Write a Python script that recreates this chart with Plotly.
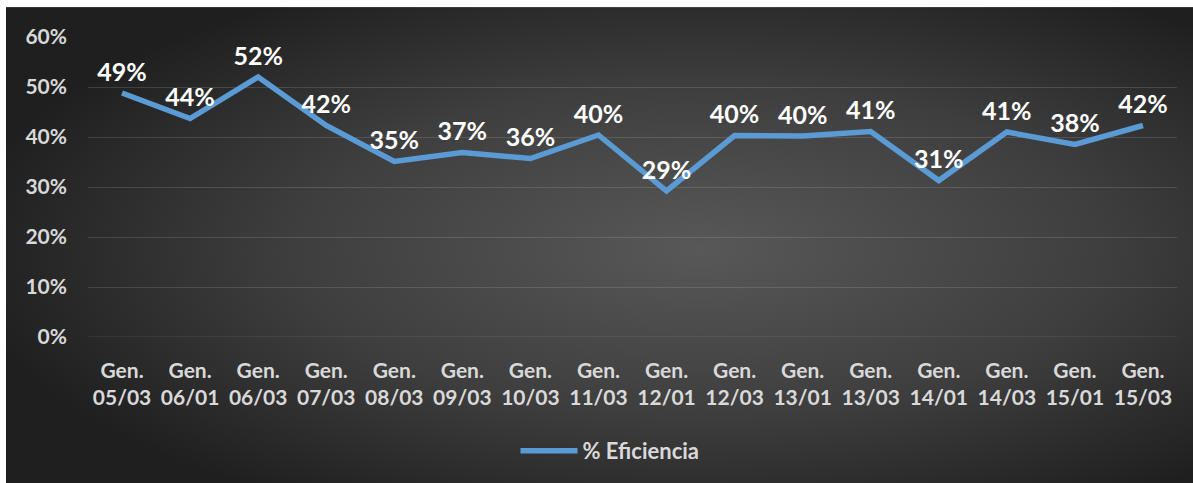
import base64
import plotly.graph_objects as go

categories = ["Gen.<br>05/03", "Gen.<br>06/01", "Gen.<br>06/03", "Gen.<br>07/03", "Gen.<br>08/03",
              "Gen.<br>09/03", "Gen.<br>10/03", "Gen.<br>11/03", "Gen.<br>12/01", "Gen.<br>12/03",
              "Gen.<br>13/01", "Gen.<br>13/03", "Gen.<br>14/01", "Gen.<br>14/03", "Gen.<br>15/01",
              "Gen.<br>15/03"]
eficiencia = [0.488, 0.437, 0.520, 0.423, 0.351, 0.369, 0.357, 0.404, 0.292, 0.403,
              0.402, 0.411, 0.313, 0.410, 0.385, 0.423]
labels = [f"{round(v*100):.0f}%" for v in eficiencia]
ytick_vals = [0, 0.1, 0.2, 0.3, 0.4, 0.5, 0.6]
ytick_text = ["0%", "10%", "20%", "30%", "40%", "50%", "60%"]

W, H = 1193, 483
L, R, T, B = 88, 16, 37, 145
PW, PH = W - L - R, H - T - B

svg = (
    '<svg xmlns="http://www.w3.org/2000/svg" width="1187" height="476" viewBox="0 0 1187 476" preserveAspectRatio="none">'
    '<defs><radialGradient id="g" cx="0.58" cy="0.5" r="0.62" gradientUnits="objectBoundingBox">'
    '<stop offset="0" stop-color="#585858"/><stop offset="0.55" stop-color="#3e3e3e"/>'
    '<stop offset="1" stop-color="#1f1f1f"/></radialGradient></defs>'
    '<rect x="0" y="0" width="1187" height="476" fill="url(#g)"/></svg>'
)
src = "data:image/svg+xml;base64," + base64.b64encode(svg.encode()).decode()

font = "Lato, 'Open Sans', sans-serif"

fig = go.Figure()
fig.add_trace(go.Scatter(
    x=categories, y=eficiencia, mode="lines+markers+text", name="% Eficiencia",
    line=dict(color="#5B9BD5", width=5.5),
    marker=dict(size=8, color="rgba(0,0,0,0)"),
    text=labels, textposition="top center",
    textfont=dict(family=font, size=25, color="#ffffff", weight="bold"),
    cliponaxis=False,
))

fig.update_layout(
    width=W, height=H,
    margin=dict(l=L, r=R, t=T, b=B),
    paper_bgcolor="#ffffff", plot_bgcolor="rgba(0,0,0,0)",
    images=[dict(source=src, xref="paper", yref="paper",
                 x=(6 - L) / PW, y=(T + PH - 7) / PH,
                 sizex=(W + 10 - 6) / PW, sizey=(H + 10 - 7) / PH,
                 xanchor="left", yanchor="top", sizing="stretch", layer="below")],
    showlegend=True,
    legend=dict(orientation="h", x=(610 - L) / PW, xanchor="center",
                y=(T + PH - 451) / PH, yanchor="middle", itemwidth=57,
                font=dict(family=font, size=22, color="#d9d9d9", weight="bold"),
                bgcolor="rgba(0,0,0,0)"),
    xaxis=dict(range=[-0.5, len(categories) - 0.5], autorange=False, automargin=False,
               showgrid=False, zeroline=False, showline=False, ticks="",
               ticklabelstandoff=19,
               tickfont=dict(family=font, size=21, color="#d9d9d9", weight="bold")),
    yaxis=dict(range=[0, 0.6], autorange=False, automargin=False,
               tickvals=ytick_vals, ticktext=ytick_text,
               showgrid=True, gridcolor="rgba(255,255,255,0.13)", gridwidth=1,
               zeroline=False, showline=False, ticks="", ticklabelstandoff=20,
               tickfont=dict(family=font, size=21, color="#d9d9d9", weight="bold")),
)
fig.add_shape(type="line", xref="paper", yref="y", x0=0, x1=1, y0=0, y1=0,
              line=dict(color="rgba(255,255,255,0.13)", width=1), layer="below")

fig.write_html("out.html", config={"displayModeBar": False},
               post_script="document.body.style.margin='0';document.body.style.padding='0';")
